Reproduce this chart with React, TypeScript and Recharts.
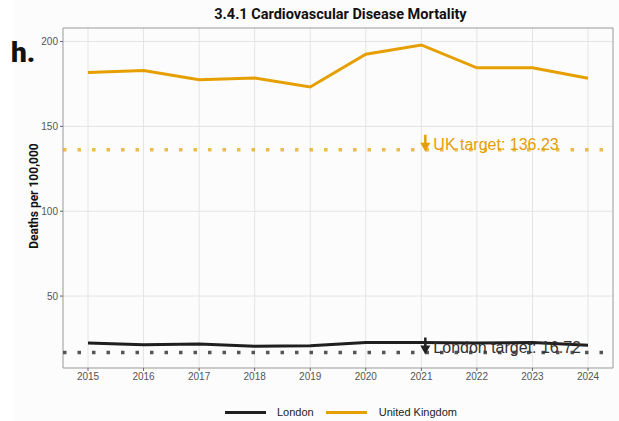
import { CartesianGrid, Line, LineChart, ReferenceArea, ReferenceDot, ReferenceLine, XAxis, YAxis } from "recharts"

const years = [2015, 2016, 2017, 2018, 2019, 2020, 2021, 2022, 2023, 2024]
const london = [22.4, 21.3, 21.8, 20.4, 20.7, 22.6, 22.6, 22.4, 22.6, 21.0]
const uk = [181.8, 183.0, 177.5, 178.5, 173.2, 192.5, 198.0, 184.5, 184.6, 178.4]

const ukTarget = 136.23
const londonTarget = 16.72
const targetYear = 2021

const yTicks = [50, 100, 150, 200]

const ORANGE = "#E69F00"
const DARK = "#1f1f1f"

const data = years.map((year, i) => ({ year, london: london[i], uk: uk[i] }))

function TargetMark(props: any) {
  const { cx, cy, color, text, textColor } = props
  if (cx == null || cy == null) return null
  return (
    <g>
      <line x1={cx + 4} x2={cx + 4} y1={cy - 15} y2={cy - 4} stroke={color} strokeWidth={2.5} />
      <path d={`M${cx - 1},${cy - 7} L${cx + 9},${cy - 7} L${cx + 4},${cy + 2} Z`} fill={color} />
      <text x={cx + 12} y={cy} fill={textColor} fontSize={16} fontFamily="Liberation Sans, Arial, sans-serif">
        {text}
      </text>
    </g>
  )
}

export default function App() {
  return (
    <div style={{ position: "absolute", left: 0, top: 0, width: 619, height: 421, background: "#fcfcfc", fontFamily: "Liberation Sans, Arial, sans-serif" }}>
      <div style={{ position: "absolute", left: 0, top: 0, width: 14, height: 421, background: "#ffffff" }} />
      <div style={{ position: "absolute", left: 0, top: 6, width: 619, textAlign: "center", paddingLeft: 62, boxSizing: "border-box", fontFamily: "Roboto, sans-serif", fontWeight: 700, fontSize: 14.5, color: "#111" }}>
        3.4.1 Cardiovascular Disease Mortality
      </div>
      <div style={{ position: "absolute", left: 11, top: 36, fontFamily: "Roboto, sans-serif", fontWeight: 900, fontSize: 28, color: "#111" }}>h.</div>
      <div style={{ position: "absolute", left: 34, top: 196, transform: "translate(-50%, -50%) rotate(-90deg)", whiteSpace: "nowrap", fontFamily: "Roboto, sans-serif", fontWeight: 700, fontSize: 12, color: "#111" }}>
        Deaths per 100,000
      </div>
      <LineChart width={619} height={421} data={data} margin={{ top: 28, right: 6, left: 30, bottom: 33 }} style={{ position: "absolute", left: 0, top: 0 }}>
        <CartesianGrid stroke="#e4e4e4" strokeWidth={1} verticalValues={years} horizontalValues={yTicks} />
        <XAxis
          dataKey="year"
          type="number"
          domain={[2014.55, 2024.45]}
          ticks={years}
          allowDataOverflow
          tickLine={{ stroke: "#666" }}
          tickSize={3}
          axisLine={false}
          tick={{ fontSize: 10, fill: "#555" }}
          height={20}
        />
        <YAxis
          type="number"
          domain={[7.6, 208]}
          ticks={yTicks}
          allowDataOverflow
          tickLine={{ stroke: "#666" }}
          tickSize={3}
          axisLine={false}
          tick={{ fontSize: 10, fill: "#555" }}
          width={33}
        />
        <ReferenceArea x1={2014.55} x2={2024.45} y1={7.6} y2={208} fill="none" stroke="#999" strokeWidth={1} />
        <ReferenceLine y={ukTarget} stroke={ORANGE} strokeOpacity={0.7} strokeWidth={3.5} strokeDasharray="3.5 11" />
        <ReferenceLine y={londonTarget} stroke="#555" strokeWidth={3.5} strokeDasharray="3.5 11" />
        <Line dataKey="uk" name="United Kingdom" stroke={ORANGE} strokeWidth={3} dot={false} isAnimationActive={false} />
        <Line dataKey="london" name="London" stroke={DARK} strokeWidth={3} dot={false} isAnimationActive={false} />
        <ReferenceDot x={targetYear} y={ukTarget} shape={(p: any) => <TargetMark {...p} color={ORANGE} textColor={ORANGE} text={`UK target: ${ukTarget}`} />} />
        <ReferenceDot x={targetYear} y={londonTarget} shape={(p: any) => <TargetMark {...p} color={DARK} textColor="#333" text={`London target: ${londonTarget}`} />} />
      </LineChart>
      <div style={{ position: "absolute", left: 225, top: 406, display: "flex", alignItems: "center", fontSize: 11, color: "#222" }}>
        <span style={{ display: "inline-block", width: 41, height: 3, background: DARK, marginRight: 11 }} />
        <span style={{ marginRight: 12 }}>London</span>
        <span style={{ display: "inline-block", width: 41, height: 3, background: ORANGE, marginRight: 12 }} />
        <span>United Kingdom</span>
      </div>
    </div>
  )
}
